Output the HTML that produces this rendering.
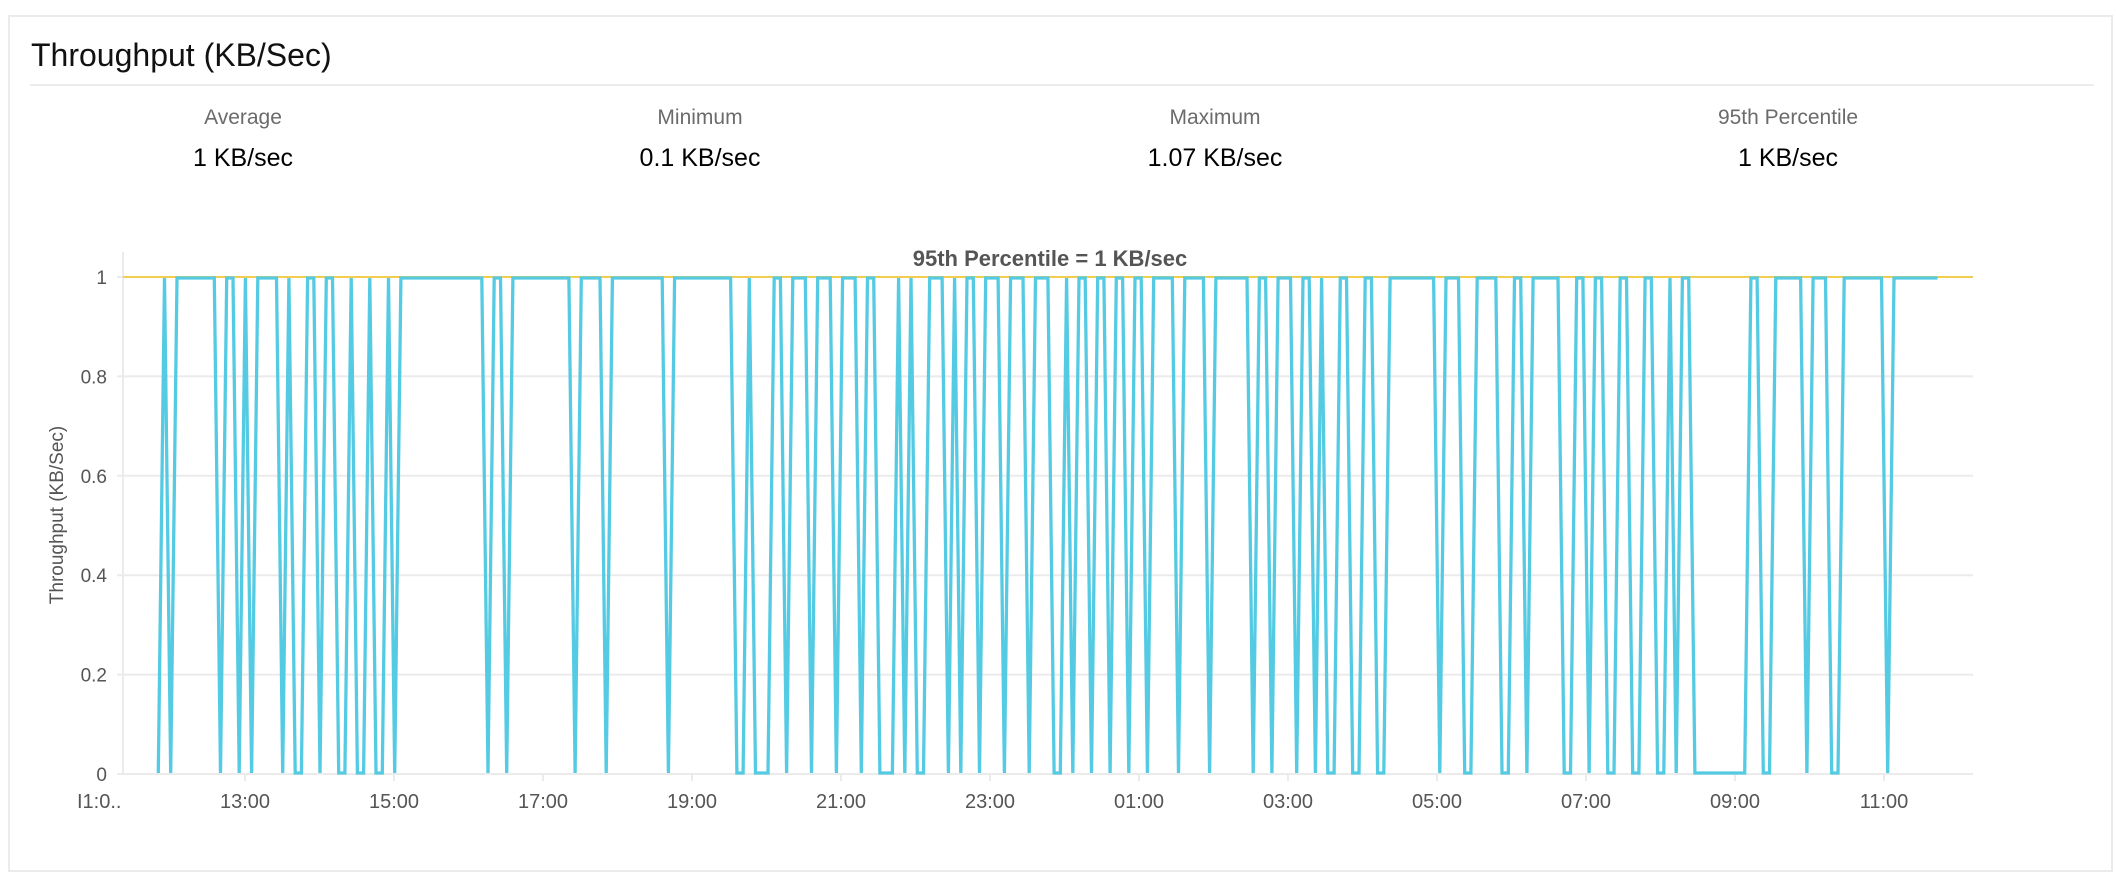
<!DOCTYPE html>
<html><head><meta charset="utf-8"><style>
html,body{margin:0;padding:0;background:#fff;width:2116px;height:878px;overflow:hidden}
svg{display:block}
text{font-family:"Liberation Sans",sans-serif}
</style></head><body>
<svg id="s" width="2116" height="878" viewBox="0 0 2116 878" xmlns="http://www.w3.org/2000/svg">
<rect x="9" y="16" width="2103" height="855" fill="#fff" stroke="#ebebeb" stroke-width="2"/>
<text x="31" y="66" font-size="32" fill="#111">Throughput (KB/Sec)</text>
<line x1="30" y1="85" x2="2094" y2="85" stroke="#ececec" stroke-width="2"/>
<g font-size="21" fill="#6b6b6b" text-anchor="middle">
<text x="243" y="124">Average</text><text x="700" y="124">Minimum</text><text x="1215" y="124">Maximum</text><text x="1788" y="124">95th Percentile</text>
</g>
<g font-size="25" fill="#000" text-anchor="middle">
<text x="243" y="166">1 KB/sec</text><text x="700" y="166">0.1 KB/sec</text><text x="1215" y="166">1.07 KB/sec</text><text x="1788" y="166">1 KB/sec</text>
</g>
<g stroke="#ebebeb" stroke-width="2" id="grid"></g>
<line x1="123" y1="252" x2="123" y2="775" stroke="#ebebeb" stroke-width="2"/>
<g font-size="19" fill="#555" text-anchor="end" id="ylab"></g>
<text transform="translate(63,515) rotate(-90)" font-size="19" fill="#555" text-anchor="middle">Throughput (KB/Sec)</text>
<g font-size="20" fill="#555" text-anchor="middle" id="xlab"></g>
<text x="77" y="808" font-size="20" fill="#555">I1:0..</text>
<line x1="123" y1="277" x2="1973" y2="277" stroke="#f2cd4f" stroke-width="2"/>
<path id="p" fill="none" stroke="#55cbe3" stroke-width="3.3" stroke-linejoin="miter"/>
<text x="1050" y="266" font-size="22" font-weight="bold" fill="#555" text-anchor="middle">95th Percentile = 1 KB/sec</text>
</svg>
<script>
var NS="http://www.w3.org/2000/svg";
function el(t,a,p,txt){var e=document.createElementNS(NS,t);for(var k in a)e.setAttribute(k,a[k]);if(txt!=null)e.textContent=txt;document.getElementById(p).appendChild(e);return e;}
var y0=774,y1=277;
for(var i=0;i<=5;i++){var y=y0-(y0-y1)*i/5;
 if(i>0)el('line',{x1:117,y1:y,x2:1973,y2:y},'grid');else el('line',{x1:117,y1:y,x2:1973,y2:y},'grid');
 el('text',{x:107,y:y+7},'ylab',i==0?'0':i==5?'1':(i/5).toFixed(1));}
var labs=['13:00','15:00','17:00','19:00','21:00','23:00','01:00','03:00','05:00','07:00','09:00','11:00'];
for(var j=0;j<labs.length;j++){var x=245+j*149.0;
 el('line',{x1:x,y1:775,x2:x,y2:781},'grid');
 el('text',{x:x,y:808},'xlab',labs[j]);}
var zeros=[0,2,10,13,15,20,22,23,26,29,30,32,33,35,36,38,53,56,67,72,82,93,94,96,97,98,101,105,109,113,116,117,118,120,122,123,127,129,132,136,140,144,145,147,150,153,156,159,164,169,176,179,183,186,188,189,192,193,196,197,206,210,211,216,217,220,226,227,230,233,234,237,238,241,242,244,247,248,249,250,251,252,253,254,255,258,259,265,269,270,278];
var zs={};zeros.forEach(function(z){zs[z]=1;});
var d='';
for(var i=0;i<=286;i++){var x=158.3+6.221*i;var y=zs[i]?y0-1:y1+1;d+=(i?'L':'M')+x.toFixed(1)+' '+y+' ';}
document.getElementById('p').setAttribute('d',d);
</script>
</body></html>
